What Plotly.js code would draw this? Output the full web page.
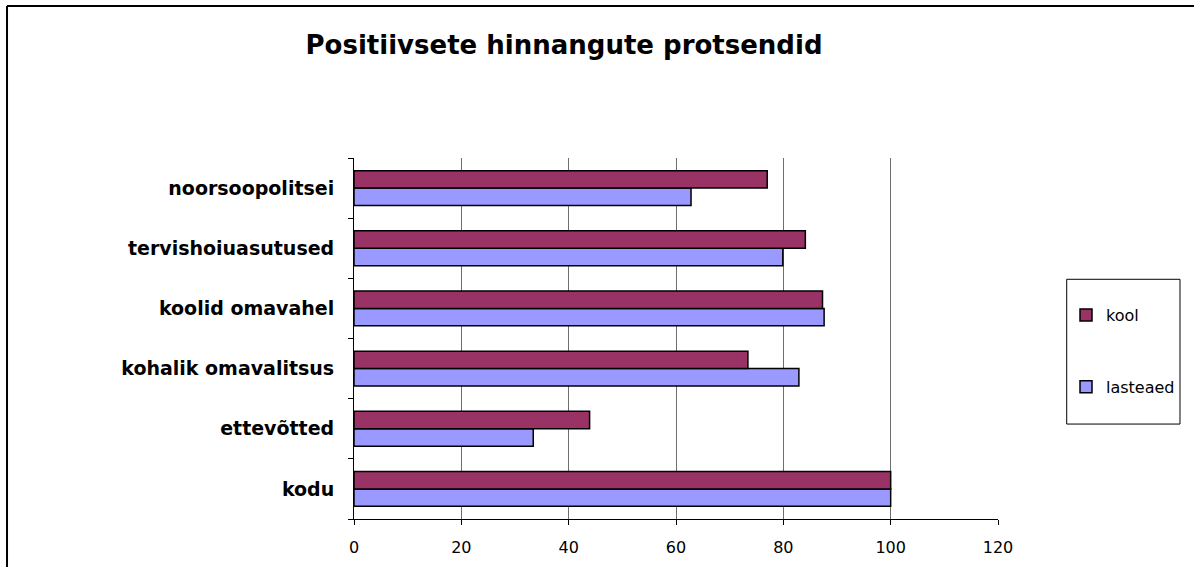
<!DOCTYPE html>
<html>
<head>
<meta charset="utf-8">
<script src="https://cdn.plot.ly/plotly-3.0.1.min.js"></script>
<style>
  html, body { margin: 0; padding: 0; background: #ffffff; }
  #chart { width: 1194px; height: 567px; }
</style>
</head>
<body>
<div id="chart"></div>
<script>
// Categories, bottom to top
const categories = ['kodu', 'ettevõtted', 'kohalik omavalitsus', 'koolid omavahel', 'tervishoiuasutused', 'noorsoopolitsei'];
// Series values (percent of positive ratings)
const koolValues = [100, 43.9, 73.4, 87.3, 84.1, 77.0];
const lasteaedValues = [100, 33.4, 82.9, 87.6, 79.9, 62.8];
const seriesNames = ['kool', 'lasteaed'];
const xTickValues = [0, 20, 40, 60, 80, 100, 120];
const chartTitle = 'Positiivsete hinnangute protsendid';

const FONT = 'DejaVu Sans, Arial, sans-serif';

const traces = [
  {
    type: 'bar', orientation: 'h', name: seriesNames[1], legendgroup: 'b', legendrank: 2,
    y: categories, x: lasteaedValues,
    marker: { color: '#9999FF', line: { color: '#000000', width: 1.5 } },
    hoverinfo: 'skip'
  },
  {
    type: 'bar', orientation: 'h', name: seriesNames[0], legendgroup: 'a', legendrank: 1,
    y: categories, x: koolValues,
    marker: { color: '#993366', line: { color: '#000000', width: 1.5 } },
    hoverinfo: 'skip'
  }
];

const layout = {
  width: 1194, height: 567,
  paper_bgcolor: '#ffffff', plot_bgcolor: '#ffffff',
  margin: { l: 354, r: 196, t: 158, b: 48, pad: 0 },
  barmode: 'group', bargap: 0.42, bargroupgap: 0,
  title: {
    text: '<b>' + chartTitle + '</b>',
    font: { family: FONT, size: 26, color: '#000000' },
    xref: 'container', x: 0.4724, xanchor: 'center',
    yref: 'container', y: 0.921, yanchor: 'middle'
  },
  xaxis: {
    range: [0, 120], tickvals: xTickValues, ticktext: xTickValues.map(String),
    showgrid: true, gridcolor: '#6e6e6e', gridwidth: 1,
    zeroline: false, showline: true, linecolor: '#000000', linewidth: 1,
    ticks: 'outside', ticklen: 5, tickcolor: '#000000',
    ticklabelstandoff: 9,
    tickfont: { family: FONT, size: 16, color: '#000000' },
    fixedrange: true
  },
  yaxis: {
    type: 'category', categoryorder: 'array', categoryarray: categories,
    showgrid: false, zeroline: false, showline: true, linecolor: '#000000', linewidth: 1,
    ticks: 'outside', tickson: 'boundaries', ticklen: 5, tickcolor: '#000000',
    ticklabelstandoff: 15,
    tickfont: { family: FONT, size: 19, color: '#000000', weight: 'bold' },
    fixedrange: true
  },
  showlegend: true,
  legend: {
    x: 1.1056, xanchor: 'left', y: 0.612, yanchor: 'top',
    traceorder: 'grouped', tracegroupgap: 48,
    bgcolor: 'rgba(0,0,0,0)', borderwidth: 0,
    font: { family: FONT, size: 16, color: '#000000' }
  },
  shapes: [
    { type: 'rect', xref: 'paper', yref: 'paper', x0: 1.1067, x1: 1.2826, y0: 0.263, y1: 0.664,
      line: { color: '#000000', width: 1 }, fillcolor: 'rgba(0,0,0,0)', layer: 'below' },
    { type: 'line', xref: 'paper', yref: 'paper', x0: -0.5388, x1: -0.5388, y0: 1.4211, y1: -0.3,
      line: { color: '#000000', width: 2 } },
    { type: 'line', xref: 'paper', yref: 'paper', x0: -0.5388, x1: 1.4, y0: 1.4211, y1: 1.4211,
      line: { color: '#000000', width: 2 } }
  ]
};

Plotly.newPlot('chart', traces, layout, { displayModeBar: false, staticPlot: true });
</script>
</body>
</html>
